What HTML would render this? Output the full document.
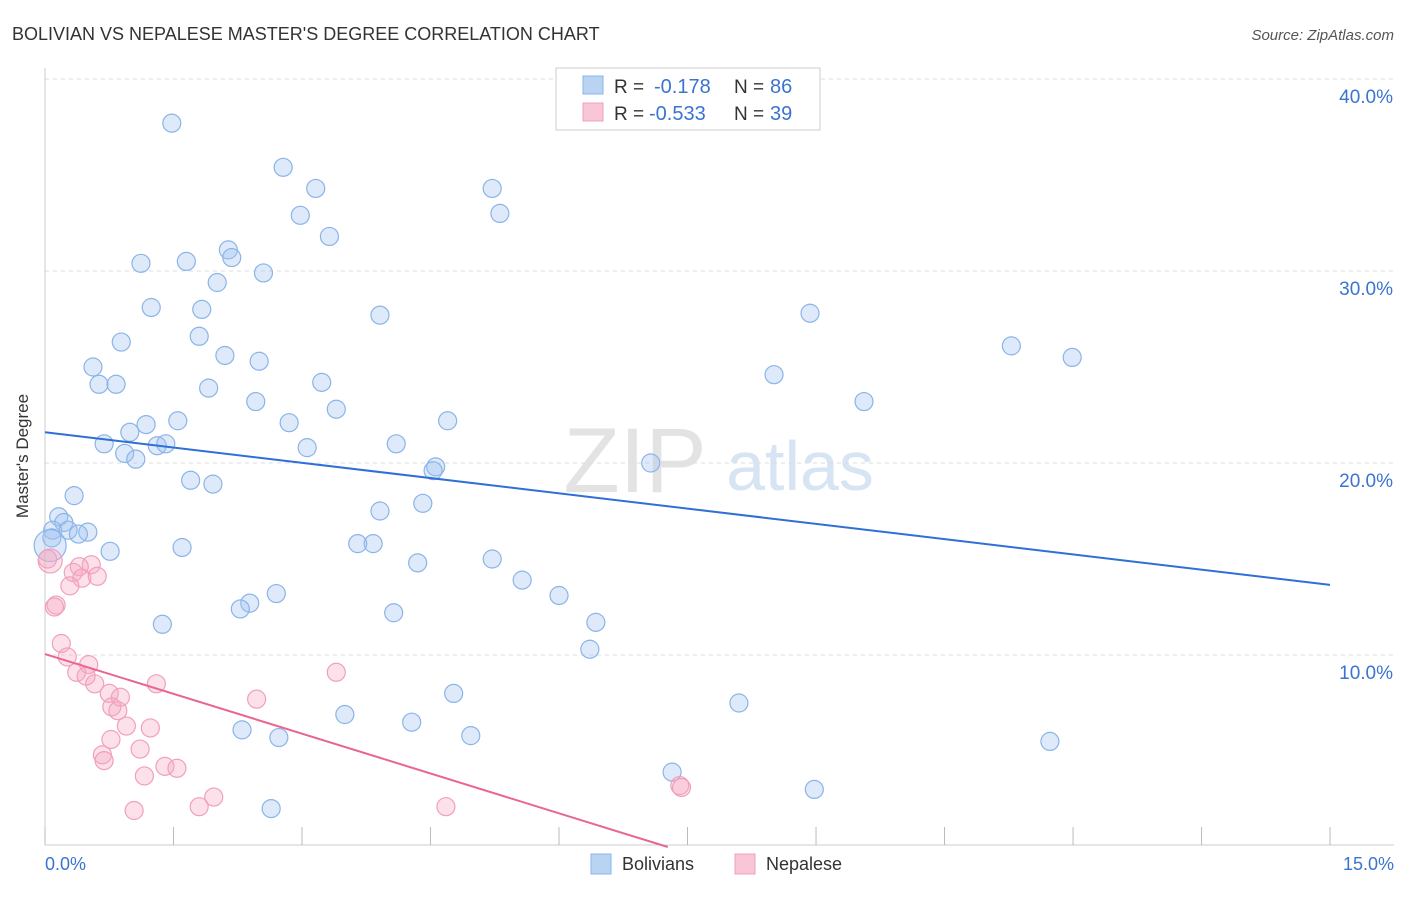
<!DOCTYPE html>
<html><head><meta charset="utf-8"><style>
body{margin:0;background:#fff;font-family:"Liberation Sans",sans-serif;}
svg text{font-family:"Liberation Sans",sans-serif;}
</style></head><body>
<svg id="chart" width="1406" height="892">
<text x="12" y="40" font-size="18" fill="#333">BOLIVIAN VS NEPALESE MASTER'S DEGREE CORRELATION CHART</text>
<text x="1394" y="40" font-size="15" fill="#555" font-style="italic" text-anchor="end">Source: ZipAtlas.com</text>
<text x="28" y="456" font-size="17" fill="#333" text-anchor="middle" transform="rotate(-90 28 456)">Master's Degree</text>
<g>
<text x="635" y="492" font-size="92" fill="#e3e3e3" font-family="Liberation Serif" text-anchor="middle">ZIP</text>
<text x="800" y="490" font-size="70" fill="#d7e4f4" text-anchor="middle">atlas</text>
</g>
<g id="grid"></g><g id="axes"></g><g id="marks"></g><g id="lines"></g>
<g>
<rect x="556" y="68" width="264" height="62" fill="#fff" stroke="#ccc"/>
<rect x="583" y="76" width="20" height="18" fill="#b9d3f3" stroke="#8ab4e8"/>
<text x="614" y="93" font-size="19" fill="#333">R =</text>
<text x="654" y="93" font-size="20" fill="#3a74d0">-0.178</text>
<text x="734" y="93" font-size="19" fill="#333">N =</text>
<text x="770" y="93" font-size="20" fill="#3a74d0">86</text>
<rect x="583" y="103" width="20" height="18" fill="#f8c6d6" stroke="#f0a0bc"/>
<text x="614" y="120" font-size="19" fill="#333">R =</text>
<text x="649" y="120" font-size="20" fill="#3a74d0">-0.533</text>
<text x="734" y="120" font-size="19" fill="#333">N =</text>
<text x="770" y="120" font-size="20" fill="#3a74d0">39</text>
</g>
<g>
<rect x="591" y="854" width="20" height="20" fill="#b9d3f3" stroke="#8ab4e8"/>
<text x="622" y="870" font-size="18" fill="#333">Bolivians</text>
<rect x="735" y="854" width="20" height="20" fill="#f8c6d6" stroke="#f0a0bc"/>
<text x="766" y="870" font-size="18" fill="#333">Nepalese</text>
</g>
</svg>
<script>
const blueX=[1.48,2.78,3.16,5.22,2.98,5.31,3.32,2.14,2.18,1.12,1.65,2.55,2.01,1.24,1.83,3.91,8.93,1.80,0.89,11.28,11.99,2.10,2.50,0.56,8.51,0.63,0.83,3.23,1.91,2.46,9.56,3.40,1.55,2.85,4.70,1.18,0.99,0.69,4.10,1.31,1.41,3.06,0.93,1.06,7.07,4.56,4.53,1.70,1.96,0.34,4.41,3.91,0.16,0.22,0.09,0.27,0.50,0.39,0.08,3.83,3.65,1.60,0.76,5.22,4.35,5.57,2.70,6.00,2.39,2.28,4.07,6.43,1.37,6.36,4.77,8.10,3.50,4.28,2.30,4.97,2.73,11.73,7.32,8.98,2.64,0.06];
const blueY=[37.7,35.4,34.3,34.3,32.9,33.0,31.8,31.1,30.7,30.4,30.5,29.9,29.4,28.1,28.0,27.7,27.8,26.6,26.3,26.1,25.5,25.6,25.3,25.0,24.6,24.1,24.1,24.2,23.9,23.2,23.2,22.8,22.2,22.1,22.2,22.0,21.6,21.0,21.0,20.9,21.0,20.8,20.5,20.2,20.0,19.8,19.6,19.1,18.9,18.3,17.9,17.5,17.2,16.9,16.5,16.5,16.4,16.3,16.1,15.8,15.8,15.6,15.4,15.0,14.8,13.9,13.2,13.1,12.7,12.4,12.2,11.7,11.6,10.3,8.0,7.5,6.9,6.5,6.1,5.8,5.7,5.5,3.9,3.0,2.0,15.7];
const pinkX=[0.06,0.03,0.13,0.11,0.54,0.40,0.33,0.43,0.61,0.29,0.19,0.26,0.51,0.37,0.48,0.58,1.30,3.40,0.75,0.88,2.47,0.78,0.85,0.95,1.23,0.77,1.11,0.67,0.69,1.40,1.54,1.16,1.97,1.80,1.04,4.68,7.41,7.43];
const pinkY=[14.9,15.0,12.6,12.5,14.7,14.6,14.3,14.0,14.1,13.6,10.6,9.9,9.5,9.1,8.9,8.5,8.5,9.1,8.0,7.8,7.7,7.3,7.1,6.3,6.2,5.6,5.1,4.8,4.5,4.2,4.1,3.7,2.6,2.1,1.9,2.1,3.2,3.1];
const blueLine=[21.6,13.65];
const pinkLine=[10.05,0];const pinkLineEndX=7.27;
const xTicks=[0,1.5,3,4.5,6,7.5,9,10.5,12,13.5,15];
const yTicks=[10,20,30,40];
const yLabels=["10.0%","20.0%","30.0%","40.0%"];
const X=v=>45+v*85.67, Y=v=>847-v*19.2;
const NS="http://www.w3.org/2000/svg";
function mk(t,a,p){const e=document.createElementNS(NS,t);for(const k in a)e.setAttribute(k,a[k]);p.appendChild(e);return e;}
const grid=document.getElementById('grid'),axes=document.getElementById('axes'),marks=document.getElementById('marks'),lines=document.getElementById('lines');
yTicks.forEach((t,i)=>{const l=mk('line',{x1:45,x2:1394,y1:Y(t),y2:Y(t),stroke:'#ddd','stroke-dasharray':'4,4'},grid);


const tx=mk('text',{x:1393,y:Y(t)+24,'font-size':19,fill:'#3a74d0','text-anchor':'end'},axes);tx.textContent=yLabels[i];

});
mk('line',{x1:45,x2:45,y1:68,y2:845,stroke:'#ccc'},axes);
mk('line',{x1:45,x2:1394,y1:845,y2:845,stroke:'#ccc'},axes);
xTicks.forEach(t=>{const l=mk('line',{x1:X(t),x2:X(t),y1:827,y2:845,stroke:'#bbb'},axes);

});
let a=mk('text',{x:45,y:870,'font-size':18,fill:'#3a74d0'},axes);a.textContent="0.0%";


a=mk('text',{x:1394,y:870,'font-size':18,fill:'#3a74d0','text-anchor':'end'},axes);a.textContent="15.0%";


blueX.forEach((v,i)=>{const r=i==blueX.length-1?16:9;const c=mk('circle',{cx:X(v),cy:Y(blueY[i]),r:r,fill:'rgba(160,196,240,0.35)',stroke:'#8ab4e8','stroke-width':1.2},marks);

});
pinkX.forEach((v,i)=>{const r=i==0?12:9;const c=mk('circle',{cx:X(v),cy:Y(pinkY[i]),r:r,fill:'rgba(245,170,195,0.35)',stroke:'#f0a0bc','stroke-width':1.2},marks);

});
let bl=mk('line',{x1:X(0),y1:Y(blueLine[0]),x2:X(15),y2:Y(blueLine[1]),stroke:'#2f6fd6','stroke-width':2},lines);


let pl=mk('line',{x1:X(0),y1:Y(pinkLine[0]),x2:X(pinkLineEndX),y2:Y(pinkLine[1]),stroke:'#e8668f','stroke-width':2},lines);


</script>
</body></html>
